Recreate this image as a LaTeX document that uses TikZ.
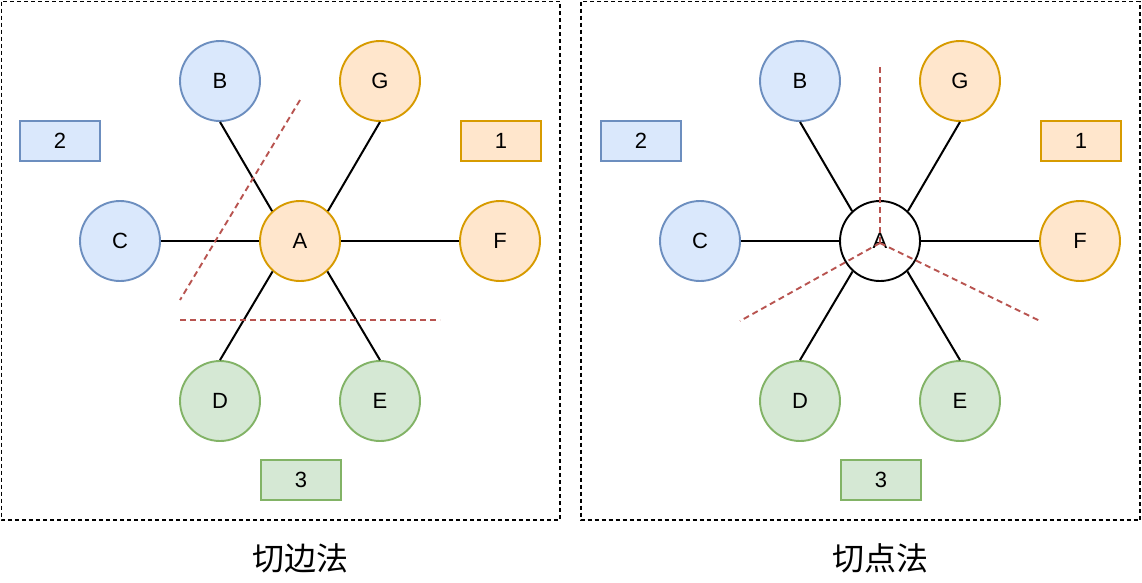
\documentclass[tikz,border=0pt]{standalone}
\usepackage{fontspec}
\setmainfont{Liberation Sans}
\newfontfamily\cjk{Noto Sans CJK SC}
\newcommand\labfont{\fontsize{22}{26}\selectfont}
\begin{document}
\begin{tikzpicture}[x=1pt,y=-1pt,
  circ/.style={circle,minimum size=80pt,inner sep=0pt,line width=1.9pt},
  bluec/.style={circ,draw={rgb,255:red,108;green,142;blue,191},fill={rgb,255:red,218;green,232;blue,252}},
  orangec/.style={circ,draw={rgb,255:red,215;green,155;blue,0},fill={rgb,255:red,255;green,230;blue,204}},
  greenc/.style={circ,draw={rgb,255:red,130;green,179;blue,102},fill={rgb,255:red,213;green,232;blue,212}},
  whitec/.style={circ,draw=black,fill=white},
  boxb/.style={rectangle,minimum width=80pt,minimum height=40pt,inner sep=0pt,line width=1.9pt},
  bluebox/.style={boxb,draw={rgb,255:red,108;green,142;blue,191},fill={rgb,255:red,218;green,232;blue,252}},
  orangebox/.style={boxb,draw={rgb,255:red,215;green,155;blue,0},fill={rgb,255:red,255;green,230;blue,204}},
  greenbox/.style={boxb,draw={rgb,255:red,130;green,179;blue,102},fill={rgb,255:red,213;green,232;blue,212}},
  edge/.style={draw=black,line width=2pt},
  cut/.style={draw={rgb,255:red,184;green,84;blue,80},line width=1.9pt,dash pattern=on 6pt off 4pt},
  frame/.style={draw=black,line width=1.6pt,dash pattern=on 4pt off 3pt},
  title/.style={font=\cjk\fontsize{32}{36}\selectfont}]
\useasboundingbox (0,0) rectangle (1142,582);
% frames
\draw[frame] (1.5,1.5) rectangle (560,520);
\draw[frame] (581,1.5) rectangle (1140,520);
% left panel
\node[bluebox] (l2) at (60,141) {\labfont 2};
\node[orangebox] (l1) at (501,141) {\labfont 1};
\node[greenbox] (l3) at (301,480) {\labfont 3};
\node[orangec] (lA) at (300,241) {\labfont A};
\node[bluec] (lB) at (220,81) {\labfont B};
\node[orangec] (lG) at (380,81) {\labfont G};
\node[bluec] (lC) at (120,241) {\labfont C};
\node[orangec] (lF) at (500,241) {\labfont F};
\node[greenc] (lD) at (220,401) {\labfont D};
\node[greenc] (lE) at (380,401) {\labfont E};
\draw[edge] (lB.south) -- (lA.133);
\draw[edge] (lG.south) -- (lA.47);
\draw[edge] (lC.east) -- (lA.west);
\draw[edge] (lF.west) -- (lA.east);
\draw[edge] (lD.north) -- (lA.228);
\draw[edge] (lE.north) -- (lA.312);
\coordinate (lc1a) at (300,100);
\coordinate (lc1b) at (180,300);
\coordinate (lc2a) at (180,320);
\coordinate (lc2b) at (440,320);
\draw[cut] (lc1a) -- (lc1b);
\draw[cut] (lc2a) -- (lc2b);
\node[title] (lt) at (300,558) {切边法};
% right panel
\node[bluebox] (r2) at (641,141) {\labfont 2};
\node[orangebox] (r1) at (1081,141) {\labfont 1};
\node[greenbox] (r3) at (881,480) {\labfont 3};
\node[whitec] (rA) at (880,241) {\labfont A};
\node[bluec] (rB) at (800,81) {\labfont B};
\node[orangec] (rG) at (960,81) {\labfont G};
\node[bluec] (rC) at (700,241) {\labfont C};
\node[orangec] (rF) at (1080,241) {\labfont F};
\node[greenc] (rD) at (800,401) {\labfont D};
\node[greenc] (rE) at (960,401) {\labfont E};
\draw[edge] (rB.south) -- (rA.133);
\draw[edge] (rG.south) -- (rA.47);
\draw[edge] (rC.east) -- (rA.west);
\draw[edge] (rF.west) -- (rA.east);
\draw[edge] (rD.north) -- (rA.228);
\draw[edge] (rE.north) -- (rA.312);
\coordinate (rc0) at (880,243);
\coordinate (rc1) at (880,67);
\coordinate (rc2) at (740,321);
\coordinate (rc3) at (1040,321);
\draw[cut] (rc1) -- (rc0);
\draw[cut] (rc0) -- (rc2);
\draw[cut] (rc0) -- (rc3);
\node[title] (rt) at (880,558) {切点法};
\end{tikzpicture}
\end{document}
